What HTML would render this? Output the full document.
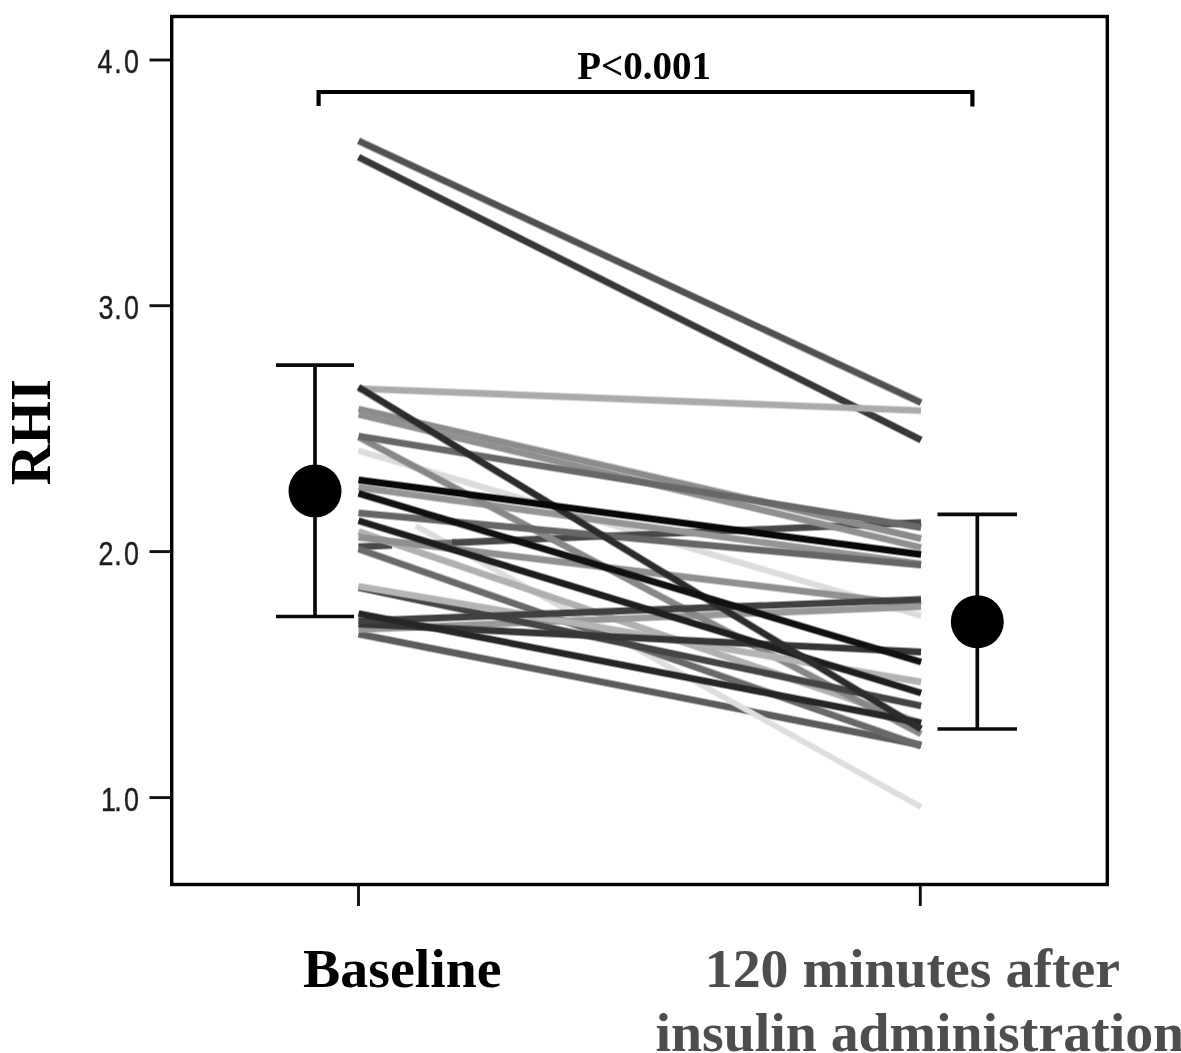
<!DOCTYPE html>
<html lang="en">
<head>
<meta charset="utf-8">
<title>RHI at baseline and 120 minutes after insulin administration</title>
<style>
html,body{margin:0;padding:0;background:#fff;}
body{width:1181px;height:1053px;overflow:hidden;position:relative;}
svg{display:block;position:absolute;left:0;top:0;}
.serif{font-family:"Liberation Serif","Times New Roman",Times,serif;font-weight:bold;}
.sans{font-family:"Liberation Sans",Arial,Helvetica,sans-serif;}
</style>
</head>
<body>
<svg width="1181" height="1053" viewBox="0 0 1181 1053">
<rect x="0" y="0" width="1181" height="1053" fill="#ffffff"/>

<!-- individual subject lines -->
<g><g fill="none" stroke-linecap="butt">
<path d="M358.6 634.00L921.0 745.00" stroke="#5c5c5c" stroke-width="7.9" stroke-opacity="0.45"/><path d="M358.6 634.00L921.0 745.00" stroke="#5c5c5c" stroke-width="5.9"/>
<path d="M416.0 525.95L921.0 807.00" stroke="#dedede" stroke-width="6.9" stroke-opacity="0.45"/><path d="M416.0 525.95L921.0 807.00" stroke="#dedede" stroke-width="4.9"/>
<path d="M358.6 450.70L921.0 615.70" stroke="#dcdcdc" stroke-width="7.3" stroke-opacity="0.45"/><path d="M358.6 450.70L921.0 615.70" stroke="#dcdcdc" stroke-width="5.3"/>
<path d="M398.0 545.10L456.0 542.59" stroke="#707070" stroke-width="7.9" stroke-opacity="0.45"/><path d="M398.0 545.10L456.0 542.59" stroke="#707070" stroke-width="5.9"/>
<path d="M358.6 546.80L392.0 545.36" stroke="#484848" stroke-width="7.9" stroke-opacity="0.45"/><path d="M358.6 546.80L392.0 545.36" stroke="#484848" stroke-width="5.9"/>
<path d="M452.0 542.76L921.0 522.50" stroke="#484848" stroke-width="7.9" stroke-opacity="0.45"/><path d="M452.0 542.76L921.0 522.50" stroke="#484848" stroke-width="5.9"/>
<path d="M358.6 531.60L921.0 723.00" stroke="#b0b0b0" stroke-width="7.9" stroke-opacity="0.45"/><path d="M358.6 531.60L921.0 723.00" stroke="#b0b0b0" stroke-width="5.9"/>
<path d="M358.6 537.30L921.0 605.50" stroke="#909090" stroke-width="7.9" stroke-opacity="0.45"/><path d="M358.6 537.30L921.0 605.50" stroke="#909090" stroke-width="5.9"/>
<path d="M358.6 409.00L921.0 538.60" stroke="#8c8c8c" stroke-width="7.9" stroke-opacity="0.45"/><path d="M358.6 409.00L921.0 538.60" stroke="#8c8c8c" stroke-width="5.9"/>
<path d="M358.6 414.50L921.0 547.50" stroke="#909090" stroke-width="7.9" stroke-opacity="0.45"/><path d="M358.6 414.50L921.0 547.50" stroke="#909090" stroke-width="5.9"/>
<path d="M358.6 487.40L921.0 564.00" stroke="#959595" stroke-width="7.9" stroke-opacity="0.45"/><path d="M358.6 487.40L921.0 564.00" stroke="#959595" stroke-width="5.9"/>
<path d="M358.6 629.50L921.0 606.50" stroke="#999999" stroke-width="7.9" stroke-opacity="0.45"/><path d="M358.6 629.50L921.0 606.50" stroke="#999999" stroke-width="5.9"/>
<path d="M358.6 437.00L921.0 734.00" stroke="#888888" stroke-width="7.9" stroke-opacity="0.45"/><path d="M358.6 437.00L921.0 734.00" stroke="#888888" stroke-width="5.9"/>
<path d="M358.6 436.20L921.0 527.50" stroke="#686868" stroke-width="7.9" stroke-opacity="0.45"/><path d="M358.6 436.20L921.0 527.50" stroke="#686868" stroke-width="5.9"/>
<path d="M358.6 513.00L921.0 565.00" stroke="#666666" stroke-width="7.9" stroke-opacity="0.45"/><path d="M358.6 513.00L921.0 565.00" stroke="#666666" stroke-width="5.9"/>
<path d="M358.6 549.00L921.0 746.00" stroke="#6a6a6a" stroke-width="7.9" stroke-opacity="0.45"/><path d="M358.6 549.00L921.0 746.00" stroke="#6a6a6a" stroke-width="5.9"/>
<path d="M358.6 140.80L921.0 402.60" stroke="#525252" stroke-width="7.9" stroke-opacity="0.45"/><path d="M358.6 140.80L921.0 402.60" stroke="#525252" stroke-width="5.9"/>
<path d="M358.6 587.60L921.0 705.80" stroke="#444444" stroke-width="7.9" stroke-opacity="0.45"/><path d="M358.6 587.60L921.0 705.80" stroke="#444444" stroke-width="5.9"/>
<path d="M358.6 586.30L921.0 682.00" stroke="#b4b4b4" stroke-width="7.9" stroke-opacity="0.45"/><path d="M358.6 586.30L921.0 682.00" stroke="#b4b4b4" stroke-width="5.9"/>
<path d="M358.6 624.00L921.0 652.00" stroke="#363636" stroke-width="7.9" stroke-opacity="0.45"/><path d="M358.6 624.00L921.0 652.00" stroke="#363636" stroke-width="5.9"/>
<path d="M358.6 621.00L921.0 599.50" stroke="#404040" stroke-width="7.9" stroke-opacity="0.45"/><path d="M358.6 621.00L921.0 599.50" stroke="#404040" stroke-width="5.9"/>
<path d="M358.6 613.60L921.0 723.00" stroke="#262626" stroke-width="7.9" stroke-opacity="0.45"/><path d="M358.6 613.60L921.0 723.00" stroke="#262626" stroke-width="5.9"/>
<path d="M358.6 157.20L921.0 440.00" stroke="#383838" stroke-width="7.9" stroke-opacity="0.45"/><path d="M358.6 157.20L921.0 440.00" stroke="#383838" stroke-width="5.9"/>
<path d="M358.6 388.60L921.0 410.60" stroke="#ababab" stroke-width="7.9" stroke-opacity="0.45"/><path d="M358.6 388.60L921.0 410.60" stroke="#ababab" stroke-width="5.9"/>
<path d="M358.6 520.80L921.0 693.00" stroke="#1e1e1e" stroke-width="7.9" stroke-opacity="0.45"/><path d="M358.6 520.80L921.0 693.00" stroke="#1e1e1e" stroke-width="5.9"/>
<path d="M358.6 387.30L921.0 729.00" stroke="#2c2c2c" stroke-width="7.9" stroke-opacity="0.45"/><path d="M358.6 387.30L921.0 729.00" stroke="#2c2c2c" stroke-width="5.9"/>
<path d="M358.6 493.40L921.0 662.00" stroke="#111111" stroke-width="7.9" stroke-opacity="0.45"/><path d="M358.6 493.40L921.0 662.00" stroke="#111111" stroke-width="5.9"/>
<path d="M358.6 480.00L921.0 554.50" stroke="#080808" stroke-width="7.9" stroke-opacity="0.45"/><path d="M358.6 480.00L921.0 554.50" stroke="#080808" stroke-width="5.9"/>
</g></g>

<!-- plot frame -->
<rect x="171.7" y="16.5" width="935.6" height="868" fill="none" stroke="#000" stroke-width="3.4"/>

<!-- y ticks -->
<g stroke="#111" stroke-width="2.9">
<line x1="149.5" y1="60" x2="171" y2="60"/>
<line x1="149.5" y1="305.7" x2="171" y2="305.7"/>
<line x1="149.5" y1="551.6" x2="171" y2="551.6"/>
<line x1="149.5" y1="797.6" x2="171" y2="797.6"/>
<!-- x ticks -->
<line x1="358.5" y1="885" x2="358.5" y2="906"/>
<line x1="920.3" y1="885" x2="920.3" y2="906"/>
</g>

<!-- y tick labels -->
<g class="sans" font-size="33.6" fill="#1c1c1c" stroke="#1c1c1c" stroke-width="0.4" transform="scale(0.8 1)">
<text x="121.8 142.7 154.9" y="73.2">4.0</text>
<text x="123.1 142.7 154.9" y="319.1">3.0</text>
<text x="123.1 142.7 154.9" y="565.1">2.0</text>
<text x="126.2 142.7 154.9" y="811">1.0</text>
</g>

<!-- significance bracket -->
<path d="M318.6 106 V92 H972.4 V106.6" fill="none" stroke="#000" stroke-width="4.2" stroke-linejoin="miter"/>
<text class="serif" x="577.2" y="78.6" font-size="39" fill="#000">P&lt;0.001</text>

<!-- mean ± SD markers -->
<g stroke="#0a0a0a" stroke-width="3.7" fill="none">
<line x1="315" y1="365.2" x2="315" y2="616.5"/>
<line x1="276" y1="365.2" x2="354" y2="365.2"/>
<line x1="276" y1="616.5" x2="354" y2="616.5"/>
<line x1="977.3" y1="514.3" x2="977.3" y2="729"/>
<line x1="937.5" y1="514.3" x2="1017" y2="514.3"/>
<line x1="937.5" y1="729" x2="1017" y2="729"/>
</g>
<circle cx="315" cy="491" r="26.5" fill="#000"/>
<circle cx="977.3" cy="621.7" r="26.5" fill="#000"/>

<!-- axis labels -->
<text class="serif" font-size="56.2" fill="#000" transform="translate(49.9 485.3) rotate(-90)">RHI</text>
<text class="serif" font-size="55.8" fill="#000" x="303.1" y="986.5">Baseline</text>
<text class="serif" font-size="55.8" fill="#4d4d4d" x="704.8" y="986.6">120 minutes after</text>
<text class="serif" font-size="55.8" fill="#4d4d4d" x="655.4" y="1051.3">insulin administration</text>
</svg>
</body>
</html>
